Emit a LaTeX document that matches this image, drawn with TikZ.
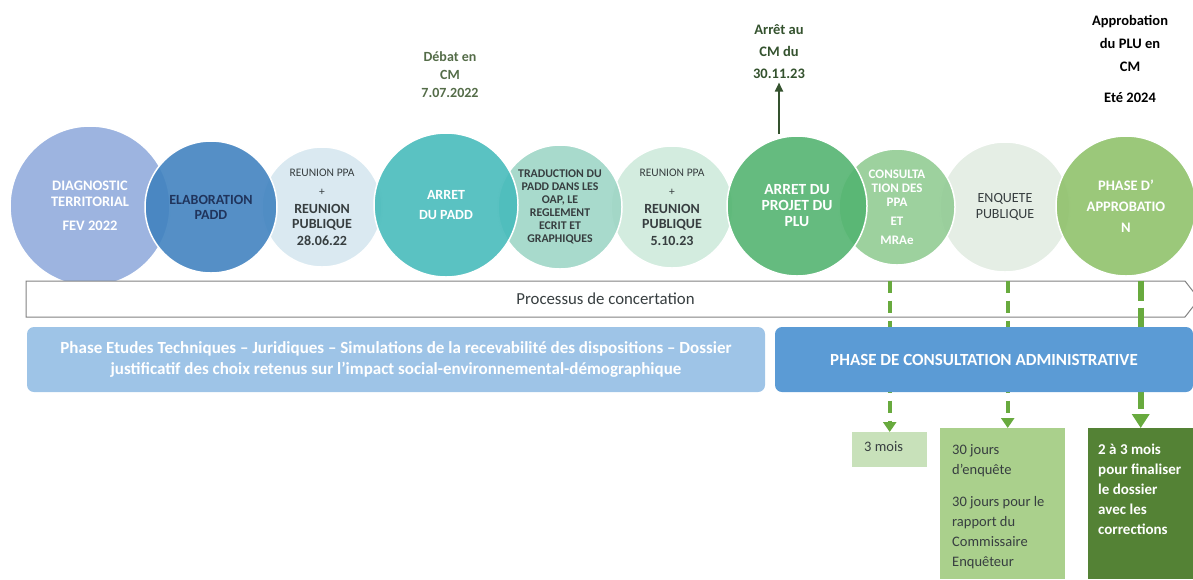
\documentclass[tikz,border=0pt]{standalone}
\usepackage{fontspec}
\setmainfont{Carlito}
\usetikzlibrary{arrows.meta, shapes.symbols, calc}
\usetikzlibrary{positioning}

\definecolor{diagblue}{RGB}{146,172,221}
\definecolor{elabblue}{RGB}{66,131,192}
\definecolor{reunblue}{RGB}{214,231,240}
\definecolor{padteal}{RGB}{72,187,187}
\definecolor{tradteal}{RGB}{158,214,198}
\definecolor{reunmint}{RGB}{206,234,219}
\definecolor{plugreen}{RGB}{84,180,113}
\definecolor{consgreen}{RGB}{146,204,148}
\definecolor{enqgreen}{RGB}{226,236,226}
\definecolor{approgreen}{RGB}{144,194,108}
\definecolor{navytext}{RGB}{32,52,92}
\definecolor{greytext}{RGB}{55,62,64}
\definecolor{labelgreen}{RGB}{84,108,72}
\definecolor{arretgreen}{RGB}{52,82,46}
\definecolor{barline}{RGB}{130,130,130}
\definecolor{etudesblue}{RGB}{158,196,231}
\definecolor{adminblue}{RGB}{91,155,213}
\definecolor{arrowgreen}{RGB}{104,170,62}
\definecolor{moisgreen}{RGB}{200,225,186}
\definecolor{joursgreen}{RGB}{170,208,140}
\definecolor{corrgreen}{RGB}{84,130,53}

\newcommand{\ppafont}{\mdseries\fontsize{11.5}{12}\selectfont}

\begin{document}
\begin{tikzpicture}[x=1pt, y=-1pt,
    circ/.style={circle, draw=white, line width=1.5pt, inner sep=0pt, align=center,
        fill opacity=0.9, text opacity=1, font=\bfseries\fontsize{14}{15}\selectfont},
    toplabel/.style={align=center, font=\bfseries\fontsize{14.5}{22}\selectfont},
    phase/.style={rounded corners=7pt, inner sep=0pt, text=white, align=center,
        font=\bfseries\fontsize{17}{21}\selectfont},
    delaybox/.style={anchor=north west, inner sep=0pt},
    delaytxt/.style={anchor=north west, align=left, inner sep=0pt,
        font=\fontsize{14.5}{20}\selectfont},
    dashline/.style={draw=arrowgreen, line width=4pt, dash pattern=on 12pt off 8pt,
        -{Triangle[width=13pt,length=10pt]}}]
    \useasboundingbox (0,0) rectangle (1193,579);

    % circles, the darker one of each pair on top
    \node[circ, fill=diagblue, text=white, minimum size=160,
        font=\bfseries\fontsize{14.5}{16}\selectfont] at (90,206) (diag)
        {DIAGNOSTIC\\ TERRITORIAL\\[8pt] FEV 2022};
    \node[circ, fill=reunblue, text=greytext, minimum size=120] at (322,207) (reun1)
        {{\ppafont REUNION PPA}\\[4pt] {\ppafont +}\\[3pt] REUNION\\ PUBLIQUE\\[2pt] 28.06.22};
    \node[circ, fill=elabblue, text=navytext, minimum size=132] at (211,207) (elab)
        {ELABORATION\\ PADD};
    \node[circ, fill=reunmint, text=greytext, minimum size=122] at (672,207) (reun2)
        {{\ppafont REUNION PPA}\\[4pt] {\ppafont +}\\[3pt] REUNION\\ PUBLIQUE\\[2pt] 5.10.23};
    \node[circ, fill=tradteal, text=greytext, minimum size=124,
        font=\bfseries\fontsize{11.8}{13}\selectfont] at (560,207) (trad)
        {TRADUCTION DU\\ PADD DANS LES\\ OAP, LE\\ REGLEMENT\\ ECRIT ET\\ GRAPHIQUES};
    \node[circ, fill=padteal, text=white, minimum size=144] at (446,205) (arpadd)
        {ARRET\\[5pt] DU PADD};
    \node[circ, fill=enqgreen, text=greytext, minimum size=130,
        font=\fontsize{14}{16}\selectfont] at (1005,207) (enq)
        {ENQUETE\\ PUBLIQUE};
    \node[circ, fill=consgreen, text=white, minimum size=116,
        font=\bfseries\fontsize{13}{14}\selectfont] at (897,207) (consult)
        {CONSULTA\\ TION DES\\ PPA\\[5pt] ET\\[5pt] MRAe};
    \node[circ, fill=plugreen, text=white, minimum size=140,
        font=\bfseries\fontsize{15.5}{16}\selectfont] at (797,206) (arplu)
        {ARRET DU\\ PROJET DU\\ PLU};
    \node[circ, fill=approgreen, text=white, minimum size=140,
        font=\bfseries\fontsize{14.5}{21}\selectfont] at (1126,206) (appro)
        {PHASE D'\\ APPROBATIO\\ N};

    % dates above
    \node[toplabel, text=labelgreen, font=\bfseries\fontsize{14}{18}\selectfont] at (450,75) (debat)
        {Débat en\\ CM\\ 7.07.2022};
    \node[toplabel, text=arretgreen] at (779,52) (arretcm) {Arrêt au\\ CM du\\ 30.11.23};
    \node[toplabel, text=black, font=\bfseries\fontsize{14.5}{23}\selectfont] at (1130,59) (approcm)
        {Approbation\\ du PLU en\\ CM\\[8pt] Eté 2024};
    \draw[draw=arretgreen, line width=1.8pt, -{Triangle[width=8pt,length=9pt]}]
        (arretcm.south |- 0,134) -- (arretcm.south);

    % concertation bar
    \node[signal, signal to=east, signal pointer angle=104, draw=barline, line width=1pt,
        fill=white, minimum width=1173, minimum height=36, inner sep=0pt,
        text=greytext, font=\fontsize{16.8}{18}\selectfont] at (605.5,299) (bar)
        {Processus de concertation};

    % delays
    \node[delaybox, fill=moisgreen, minimum width=75, minimum height=35] at (852,432) (mois) {};
    \node[delaytxt, text=greytext] at ([xshift=12,yshift=-9]mois.north west) (moistxt) {3 mois};
    \node[delaybox, fill=joursgreen, minimum width=125, minimum height=151] at (940,428) (jours) {};
    \node[delaytxt, text=greytext] at ([xshift=12,yshift=-16]jours.north west) (jourstxt)
        {30 jours\\ d’enquête\\[12pt] 30 jours pour le\\ rapport du\\ Commissaire\\ Enquêteur};
    \node[delaybox, fill=corrgreen, minimum width=105, minimum height=151] at (1088,428) (corr) {};
    \node[delaytxt, text=white, font=\bfseries\fontsize{15}{20}\selectfont]
        at ([xshift=10,yshift=-16]corr.north west) (corrtxt)
        {2 à 3 mois\\ pour finaliser\\ le dossier\\ avec les\\ corrections};

    \draw[dashline] (mois.north |- bar.north) -- (mois.north);
    \draw[dashline] ([xshift=5]jours.north |- bar.north) -- ([xshift=5]jours.north);
    \draw[dashline, line width=6pt, dash pattern=on 20pt off 7pt,
        -{Triangle[width=17pt,length=14pt]}] (corr.north |- bar.north) -- (corr.north);

    % phases
    \node[phase, fill=etudesblue, minimum width=738, minimum height=65] at (396,359.5) (etudes)
        {Phase Etudes Techniques – Juridiques – Simulations de la recevabilité des dispositions – Dossier\\
         justificatif des choix retenus sur l’impact social-environnemental-démographique};
    \node[phase, fill=adminblue, minimum width=418, minimum height=65] at (984,359.5) (admin)
        {PHASE DE CONSULTATION ADMINISTRATIVE};
\end{tikzpicture}
\end{document}
